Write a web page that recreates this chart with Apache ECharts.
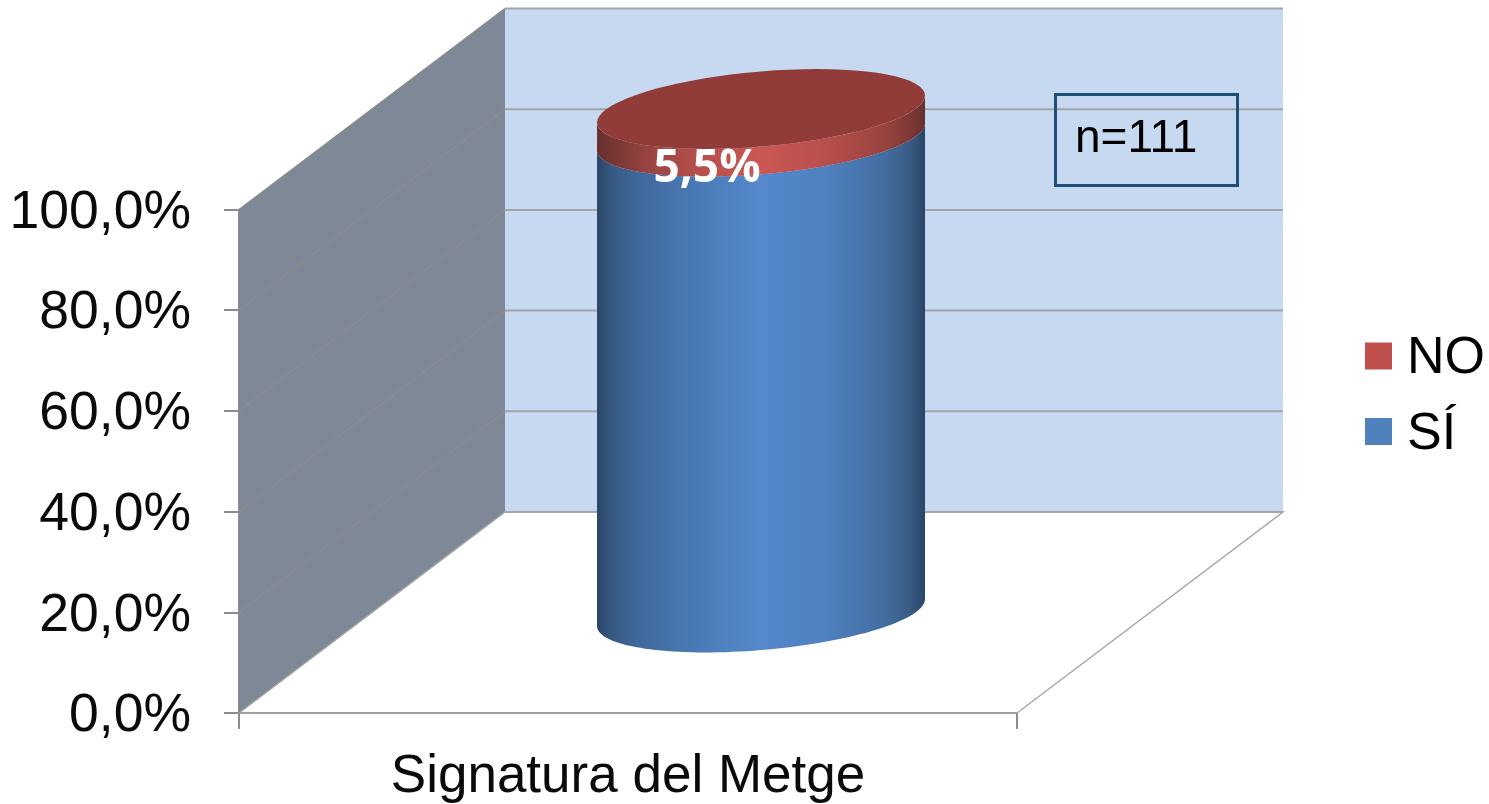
<!DOCTYPE html>
<html>
<head>
<meta charset="utf-8">
<style>html,body{margin:0;padding:0;background:#fff}#c{width:1489px;height:804px}</style>
<script src="https://cdn.jsdelivr.net/npm/echarts@6/dist/echarts.min.js"></script>
</head>
<body>
<div id="c"></div>
<script>
const categories = ['Signatura del Metge'];
const siValues = [94.5];
const noValues = [5.5];
const yTicks = [0, 20, 40, 60, 80, 100];
const sampleSize = 'n=111';

const FONT = '"Liberation Sans", Arial, sans-serif';
const DEPTH_X = 266, DEPTH_Y = -201;
const RX = 164, TILT = -13.5, RY = 37.6;

const BLUE_STOPS = [[0,'#2a4568'],[0.04,'#37587f'],[0.12,'#3f689a'],[0.3,'#4a7ab6'],[0.5,'#5589cc'],[0.7,'#4f80bf'],[0.88,'#426d9f'],[0.96,'#375980'],[1,'#2a4568']];
const RED_STOPS = [[0,'#66302d'],[0.06,'#7a3835'],[0.15,'#974341'],[0.3,'#b54f4b'],[0.5,'#cb5753'],[0.7,'#b84f4c'],[0.88,'#99433f'],[0.96,'#7c3835'],[1,'#66302d']];

function grad(stops) {
  return new echarts.graphic.LinearGradient(0, 0, 1, 0, stops.map(s => ({offset: s[0], color: s[1]})));
}
function arc(cx, cy, from, to) {
  const pts = [];
  const N = 72;
  for (let i = 0; i <= N; i++) {
    const t = from + (to - from) * i / N;
    pts.push([cx + RX * Math.cos(t), cy + TILT * Math.cos(t) + RY * Math.sin(t)]);
  }
  return pts;
}
function cylCentre(api, idx, v) {
  const p = api.coord([idx, v]);
  return [p[0] + DEPTH_X / 2, p[1] + DEPTH_Y / 2];
}
function wallsRender(params, api) {
  const half = api.size([1, 0])[0] / 2;
  const c0 = api.coord([0, 0]), cMax = api.coord([0, 100]);
  const L = c0[0] - half, R = c0[0] + half, B = c0[1], T = cMax[1];
  const children = [];
  children.push({type: 'polygon', shape: {points: [[L + DEPTH_X, T + DEPTH_Y], [R + DEPTH_X, T + DEPTH_Y], [R + DEPTH_X, B + DEPTH_Y], [L + DEPTH_X, B + DEPTH_Y]]}, style: {fill: '#c6d9f1'}});
  children.push({type: 'polygon', shape: {points: [[L, B], [L + DEPTH_X, B + DEPTH_Y], [L + DEPTH_X, T + DEPTH_Y], [L, T]]}, style: {fill: '#7e8896'}});
  yTicks.forEach(v => {
    const y = api.coord([0, v])[1];
    children.push({type: 'line', shape: {x1: L + DEPTH_X, y1: y + DEPTH_Y, x2: R + DEPTH_X, y2: y + DEPTH_Y}, style: {stroke: '#a1a4a8', lineWidth: 2}});
    if (v > 0) {
      children.push({type: 'line', shape: {x1: L, y1: y, x2: L + DEPTH_X, y2: y + DEPTH_Y}, style: {stroke: '#8a8c8f', lineWidth: 1.5}});
    }
  });
  children.push({type: 'polyline', shape: {points: [[L, B], [L + DEPTH_X, B + DEPTH_Y], [R + DEPTH_X, B + DEPTH_Y], [R, B]]}, style: {stroke: '#a6a6a6', lineWidth: 1.5, fill: 'none'}});
  return {type: 'group', children};
}
function siRender(params, api) {
  const idx = api.value(0);
  const bot = cylCentre(api, idx, 0), top = cylCentre(api, idx, api.value(1));
  const pts = arc(bot[0], bot[1], 0, Math.PI).concat(arc(top[0], top[1], Math.PI, 0));
  return {type: 'polygon', shape: {points: pts}, style: {fill: grad(BLUE_STOPS)}};
}
function noRender(params, api) {
  const idx = api.value(0), si = siValues[idx], v = api.value(1);
  const bot = cylCentre(api, idx, si), top = cylCentre(api, idx, si + v);
  const band = arc(bot[0], bot[1], 0, Math.PI).concat(arc(top[0], top[1], Math.PI, 0));
  const cap = arc(top[0], top[1], 0, Math.PI * 2);
  return {type: 'group', children: [
    {type: 'polygon', shape: {points: band}, style: {fill: grad(RED_STOPS)}},
    {type: 'polygon', shape: {points: cap}, style: {fill: '#913c39'}},
    {type: 'text', style: {
      text: v.toFixed(1).replace('.', ',') + '%',
      x: bot[0] - 54, y: bot[1] + 32, align: 'center', verticalAlign: 'middle',
      fill: '#fff', font: 'bold 46px "Open Sans", sans-serif'
    }}
  ]};
}

const chart = echarts.init(document.getElementById('c'), null, {renderer: 'canvas'});
chart.setOption({
  animation: false,
  backgroundColor: '#fff',
  grid: {left: 239, top: 209.5, width: 778, height: 503.5, containLabel: false},
  legend: {
    data: ['NO', 'SÍ'], orient: 'vertical', left: 1360, top: 327, itemWidth: 27, itemHeight: 33, itemGap: 21.5,
    icon: 'path://M0,33L0,33ZM0,0H27V27H0Z',
    textStyle: {fontFamily: FONT, fontSize: 52, color: '#000', padding: [0, 0, 0, 10], lineHeight: 54},
    selectedMode: false
  },
  xAxis: {
    type: 'category', data: categories,
    axisLine: {lineStyle: {color: '#a0a0a0', width: 2}},
    axisTick: {show: true, length: 16, lineStyle: {color: '#8c8c8c', width: 2}},
    axisLabel: {fontFamily: FONT, fontSize: 53, color: '#0a0a0a', margin: 38}
  },
  yAxis: {
    type: 'value', min: 0, max: 100, interval: 20,
    splitLine: {show: false},
    axisLine: {show: true, lineStyle: {color: '#8c8c8c', width: 2}},
    axisTick: {show: true, length: 15, lineStyle: {color: '#8c8c8c', width: 2}},
    axisLabel: {fontFamily: FONT, fontSize: 53.5, color: '#0a0a0a', margin: 48, verticalAlign: 'top', lineHeight: 7,
      formatter: v => v.toFixed(1).replace('.', ',') + '%'}
  },
  graphic: [
    {type: 'rect', left: 1053, top: 92, z: 50, shape: {width: 182, height: 91}, style: {fill: 'none', stroke: '#1f4e79', lineWidth: 3}},
    {type: 'text', left: 1075, top: 116, z: 50, style: {text: sampleSize, font: '46px ' + FONT, fill: '#000'}}
  ],
  series: [
    {type: 'custom', name: 'walls', coordinateSystem: 'cartesian2d', silent: true, z: 1, renderItem: wallsRender, data: [[0, 100]], clip: false},
    {type: 'custom', name: 'SÍ', coordinateSystem: 'cartesian2d', z: 3, itemStyle: {color: '#4f81bd'}, renderItem: siRender, encode: {x: 0, y: 1}, data: siValues.map((v, i) => [i, v]), clip: false},
    {type: 'custom', name: 'NO', coordinateSystem: 'cartesian2d', z: 4, itemStyle: {color: '#c0504d'}, renderItem: noRender, encode: {x: 0, y: 1}, data: noValues.map((v, i) => [i, v]), clip: false}
  ]
});
</script>
</body>
</html>
